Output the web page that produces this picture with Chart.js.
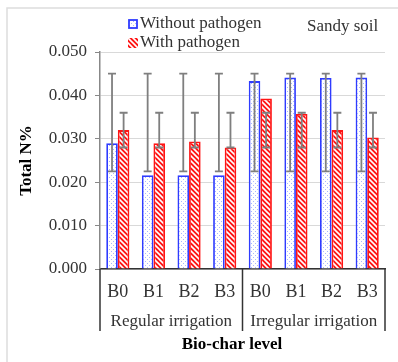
<!DOCTYPE html>
<html>
<head>
<meta charset="utf-8">
<script src="https://cdn.jsdelivr.net/npm/chart.js@4"></script>
<style>
  body { margin: 0; background: #fff; }
  canvas { display: block; }
</style>
</head>
<body>
<canvas id="nChart" width="398" height="362"></canvas>
<script>
const categories = ["B0", "B1", "B2", "B3", "B0", "B1", "B2", "B3"];
const groups = ["Regular irrigation", "Irregular irrigation"];
const groupSizes = [4, 4];
const seriesNames = ["Without pathogen", "With pathogen"];
const withoutPathogen = [0.0290, 0.0216, 0.0216, 0.0216, 0.0433, 0.0441, 0.0440, 0.0441];
const withPathogen = [0.0320, 0.0290, 0.0294, 0.0280, 0.0393, 0.0357, 0.0320, 0.0303];
const withoutLow = [0.0225, 0.0225, 0.0225, 0.0225, 0.0225, 0.0225, 0.0225, 0.0225];
const withoutHigh = [0.045, 0.045, 0.045, 0.045, 0.045, 0.045, 0.045, 0.045];
const withLow = [0.028, 0.028, 0.028, 0.028, 0.028, 0.028, 0.028, 0.028];
const withHigh = [0.036, 0.036, 0.036, 0.036, 0.036, 0.036, 0.036, 0.036];
const yTickLabels = ["0.000", "0.005", "0.010", "0.015", "0.020", "0.025",
    "0.030", "0.035", "0.040", "0.045", "0.050"];

const serif = "'Liberation Serif', 'Times New Roman', serif";
const blue = "#2f3cff";
const red = "#ff1414";

function dotPattern() {
    const c = document.createElement("canvas");
    c.width = 4; c.height = 4;
    const g = c.getContext("2d");
    g.fillStyle = "#ffffff";
    g.fillRect(0, 0, 4, 4);
    g.fillStyle = "#a9b6ff";
    g.fillRect(1, 1, 1, 1);
    g.fillRect(3, 3, 1, 1);
    return g.createPattern(c, "repeat");
}

function stripePattern() {
    const s = 5;
    const c = document.createElement("canvas");
    c.width = s; c.height = s;
    const g = c.getContext("2d");
    g.fillStyle = red;
    g.fillRect(0, 0, s, s);
    g.strokeStyle = "#ffffff";
    g.lineWidth = 1.6;
    g.beginPath();
    g.moveTo(-1, -1); g.lineTo(s + 1, s + 1);
    g.moveTo(-1, s - 1); g.lineTo(1, s + 1);
    g.moveTo(s - 1, -1); g.lineTo(s + 1, 1);
    g.stroke();
    return g.createPattern(c, "repeat");
}

const dots = dotPattern();
const stripes = stripePattern();

// error bars, frame, legend and the grouped x axis
const extras = {
    id: "extras",
    beforeDraw(chart) {
        const ctx = chart.ctx;
        ctx.save();
        ctx.strokeStyle = "#dddddd";
        ctx.lineWidth = 1.5;
        ctx.beginPath();
        ctx.moveTo(7, 362); ctx.lineTo(7, 8); ctx.lineTo(398, 8);
        ctx.stroke();
        ctx.restore();
    },
    afterDatasetsDraw(chart) {
        const ctx = chart.ctx;
        const y = chart.scales.y;
        const ranges = [[withoutLow, withoutHigh], [withLow, withHigh]];
        ctx.save();
        ctx.strokeStyle = "#7f7f7f";
        ctx.lineWidth = 1.8;
        ranges.forEach((r, di) => {
            chart.getDatasetMeta(di).data.forEach((bar, i) => {
                const x = bar.x;
                const y1 = y.getPixelForValue(r[0][i]);
                const y2 = y.getPixelForValue(r[1][i]);
                ctx.beginPath();
                ctx.moveTo(x, y1); ctx.lineTo(x, y2);
                ctx.moveTo(x - 4, y1); ctx.lineTo(x + 4, y1);
                ctx.moveTo(x - 4, y2); ctx.lineTo(x + 4, y2);
                ctx.stroke();
            });
        });
        ctx.restore();
    },
    afterDraw(chart) {
        const ctx = chart.ctx;
        const x = chart.scales.x;
        const area = chart.chartArea;
        ctx.save();

        // group separators and labels
        ctx.strokeStyle = "#333333";
        ctx.lineWidth = 1.5;
        let start = 0;
        const edges = [area.left];
        groupSizes.forEach((n, gi) => {
            const end = start + n;
            const right = end < categories.length
                ? (x.getPixelForTick(end - 1) + x.getPixelForTick(end)) / 2
                : area.right;
            edges.push(right);
            ctx.fillStyle = "#333333";
            ctx.font = "17px " + serif;
            ctx.textAlign = "center";
            ctx.textBaseline = "middle";
            ctx.fillText(groups[gi], (edges[gi] + right) / 2, 322);
            start = end;
        });
        edges.forEach(e => {
            ctx.beginPath();
            ctx.moveTo(e, area.bottom); ctx.lineTo(e, 331);
            ctx.stroke();
        });

        // axis titles
        ctx.fillStyle = "#000000";
        ctx.font = "bold 17px " + serif;
        ctx.textAlign = "center";
        ctx.fillText("Bio-char level", 232, 345);
        ctx.save();
        ctx.translate(27, (area.top + area.bottom) / 2);
        ctx.rotate(-Math.PI / 2);
        ctx.fillText("Total N%", 0, 0);
        ctx.restore();

        // legend
        ctx.font = "17px " + serif;
        ctx.textAlign = "left";
        ctx.fillStyle = dots;
        ctx.fillRect(129, 20, 8, 8);
        ctx.strokeStyle = blue;
        ctx.lineWidth = 1.8;
        ctx.strokeRect(129, 20, 8, 8);
        ctx.fillStyle = stripes;
        ctx.fillRect(128, 38, 10, 10);
        ctx.fillStyle = "#333333";
        ctx.fillText(seriesNames[0], 140, 24);
        ctx.fillText(seriesNames[1], 140, 43);

        ctx.fillText("Sandy soil", 307, 27);
        ctx.restore();
    }
};

new Chart(document.getElementById("nChart"), {
    type: "bar",
    data: {
        labels: categories,
        datasets: [{
            label: seriesNames[0],
            data: withoutPathogen,
            backgroundColor: dots,
            borderColor: blue,
            borderWidth: 1.8
        }, {
            label: seriesNames[1],
            data: withPathogen,
            backgroundColor: stripes,
            borderColor: red,
            borderWidth: 1.8
        }]
    },
    options: {
        responsive: false,
        animation: false,
        categoryPercentage: 0.65,
        barPercentage: 1.0,
        layout: { padding: { top: 52, right: 13, left: 0, bottom: 0 } },
        plugins: {
            legend: { display: false },
            tooltip: { enabled: false }
        },
        scales: {
            x: {
                grid: { display: false },
                border: { color: "#333333", width: 1.5 },
                ticks: { font: { family: serif, size: 18 }, color: "#333333", padding: 4 },
                afterFit: s => { s.height = 93; }
            },
            y: {
                min: 0,
                max: 0.05,
                ticks: {
                    stepSize: 0.005,
                    font: { family: serif, size: 17 },
                    color: "#333333",
                    padding: 8,
                    callback: (v, i) => yTickLabels[i]
                },
                grid: { color: "#d9d9d9", tickColor: "#888888", tickLength: 5 },
                border: { color: "#888888", width: 1.5 },
                afterFit: s => { s.width = 100; }
            }
        }
    },
    plugins: [extras]
});
</script>
</body>
</html>
